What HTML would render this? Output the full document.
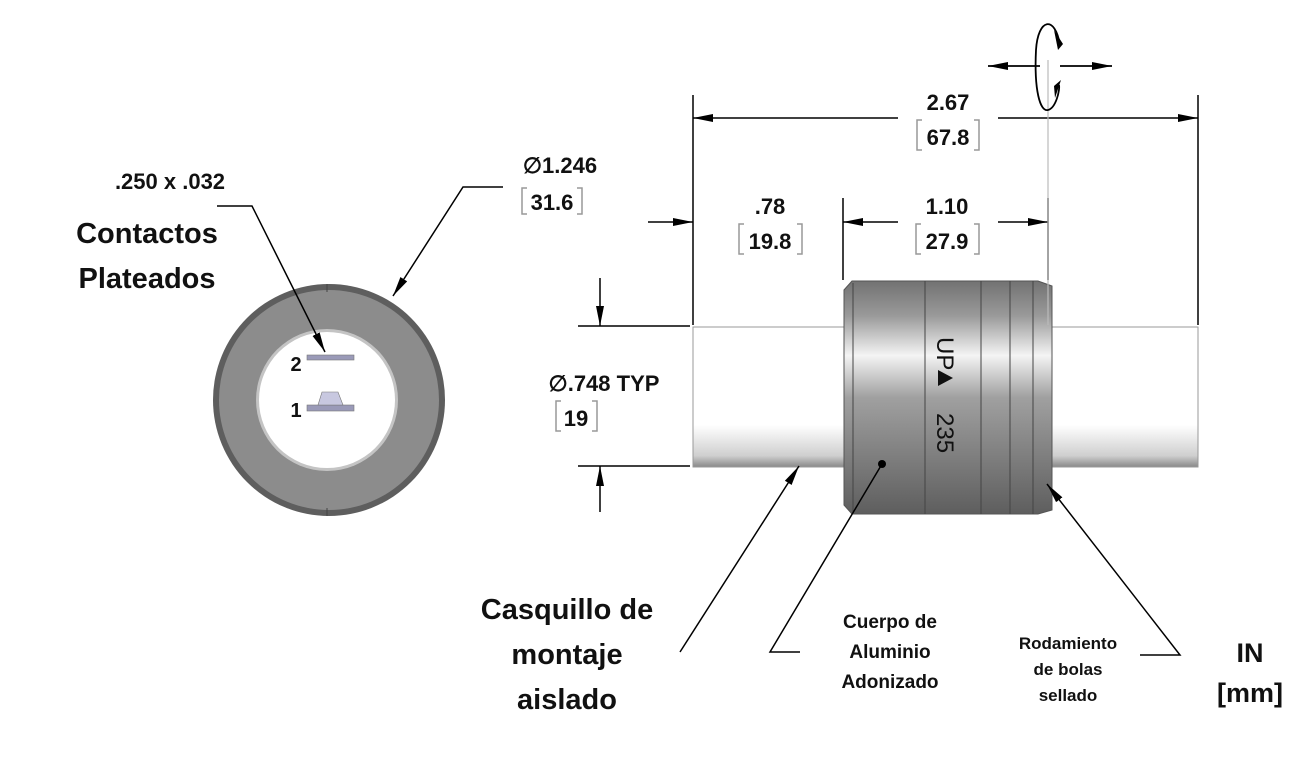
<!DOCTYPE html>
<html><head><meta charset="utf-8"><style>
html,body{margin:0;padding:0;background:#fff;}
svg{display:block;}
text{font-family:"Liberation Sans",sans-serif;fill:#111;}
.d{font-size:22px;font-weight:bold;text-anchor:middle;}
.b{font-weight:bold;text-anchor:middle;}
</style></head><body>
<svg width="1306" height="771" viewBox="0 0 1306 771" xmlns="http://www.w3.org/2000/svg">
<defs>
<marker id="ar" markerWidth="20" markerHeight="10" refX="20" refY="5" orient="auto" markerUnits="userSpaceOnUse">
<path d="M0,1 L20,5 L0,9 Z" fill="#000"/></marker>
<linearGradient id="body" x1="0" y1="0" x2="0" y2="1">
<stop offset="0" stop-color="#727272"/><stop offset="0.15" stop-color="#9a9a9a"/><stop offset="0.32" stop-color="#f4f4f4"/><stop offset="0.5" stop-color="#a0a0a0"/><stop offset="1" stop-color="#5e5e5e"/></linearGradient>
<linearGradient id="shaft" x1="0" y1="0" x2="0" y2="1">
<stop offset="0" stop-color="#fff"/><stop offset="0.7" stop-color="#fff"/><stop offset="0.92" stop-color="#cfcfcf"/><stop offset="1" stop-color="#888"/></linearGradient>
</defs>

<circle cx="329" cy="400" r="116" fill="#5e5e5e"/>
<circle cx="329" cy="400" r="110" fill="#8c8c8c"/>
<circle cx="327" cy="400" r="71" fill="#c4c4c4"/>
<circle cx="327" cy="400" r="68" fill="#fff"/>
<line x1="327" y1="284" x2="327" y2="292" stroke="#444" stroke-width="1"/>
<line x1="327" y1="508" x2="327" y2="516" stroke="#444" stroke-width="1"/>
<rect x="307" y="355" width="47" height="5" fill="#9a9ab8" stroke="#777" stroke-width="0.6"/>
<rect x="307" y="405" width="47" height="6" fill="#9a9ab8" stroke="#777" stroke-width="0.6"/>
<path d="M318,405 L322,392 L338,392 L343,405 Z" fill="#c8c8e0" stroke="#777" stroke-width="0.6"/>
<text x="296" y="371" class="b" font-size="20">2</text>
<text x="296" y="417" class="b" font-size="20">1</text>

<polyline points="217,206 252,206 325,352" fill="none" stroke="#000" stroke-width="1.5" marker-end="url(#ar)"/>
<polyline points="503,187 463,187 393,296" fill="none" stroke="#000" stroke-width="1.5" marker-end="url(#ar)"/>
<text x="170" y="189" font-size="22" font-weight="bold" text-anchor="middle">.250 x .032</text>
<text x="147" y="243" class="b" font-size="29">Contactos</text>
<text x="147" y="288" class="b" font-size="29">Plateados</text>
<text x="560" y="173" class="d" font-size="23">∅1.246</text>
<text x="552" y="210" class="d">31.6</text>
<path d="M527,188 h-5 v26 h5 M577,188 h5 v26 h-5" fill="none" stroke="#999" stroke-width="1.5"/>

<rect x="693" y="327" width="152" height="140" fill="url(#shaft)" stroke="#999" stroke-width="1"/>
<rect x="1048" y="327" width="150" height="140" fill="url(#shaft)" stroke="#999" stroke-width="1"/>
<path d="M852,281 L1038,281 L1052,286 L1052,510 L1038,514 L852,514 L844,505 L844,290 Z" fill="url(#body)" stroke="#555" stroke-width="1"/>
<g stroke="#444" stroke-width="1">
<line x1="853" y1="283" x2="853" y2="512"/>
<line x1="925" y1="281" x2="925" y2="514"/>
<line x1="981" y1="281" x2="981" y2="514"/>
<line x1="1010" y1="281" x2="1010" y2="514"/>
<line x1="1033" y1="281" x2="1033" y2="514"/>
</g>
<text transform="translate(937,337) rotate(90)" font-size="24" fill="#111">UP</text>
<path d="M938,370 L953,378 L938,386 Z" fill="#111"/>
<text transform="translate(937,413) rotate(90)" font-size="24" fill="#111">235</text>
<circle cx="882" cy="464" r="4" fill="#000"/>

<g stroke="#000" stroke-width="1.5" fill="none">
<line x1="693" y1="95" x2="693" y2="325"/>
<line x1="1198" y1="95" x2="1198" y2="325"/>
<line x1="843" y1="198" x2="843" y2="280"/>
<line x1="1048" y1="198" x2="1048" y2="280"/>
<line x1="898" y1="118" x2="693" y2="118" marker-end="url(#ar)"/>
<line x1="998" y1="118" x2="1198" y2="118" marker-end="url(#ar)"/>
<line x1="648" y1="222" x2="693" y2="222" marker-end="url(#ar)"/>
<line x1="898" y1="222" x2="843" y2="222" marker-end="url(#ar)"/>
<line x1="998" y1="222" x2="1048" y2="222" marker-end="url(#ar)"/>
<line x1="578" y1="326" x2="690" y2="326"/>
<line x1="578" y1="466" x2="690" y2="466"/>
<line x1="600" y1="278" x2="600" y2="326" marker-end="url(#ar)"/>
<line x1="600" y1="512" x2="600" y2="466" marker-end="url(#ar)"/>
</g>
<line x1="1048" y1="60" x2="1048" y2="325" stroke="#bbb" stroke-width="1.2"/>
<g stroke="#000" stroke-width="1.8" fill="none">
<line x1="1040" y1="66" x2="988" y2="66" marker-end="url(#ar)"/>
<line x1="1060" y1="66" x2="1112" y2="66" marker-end="url(#ar)"/>
<path d="M1060,45 C1055,15 1038,18 1036,50 C1034,90 1040,112 1048,110 C1056,108 1060,90 1059,85"/>
</g>
<path d="M1054,30 L1063,44 L1058,50 Z" fill="#000"/>
<path d="M1055,98 L1061,80 L1054,86 Z" fill="#000"/>

<text x="948" y="110" class="d">2.67</text>
<text x="948" y="145" class="d">67.8</text>
<path d="M922,120 h-5 v30 h5 M974,120 h5 v30 h-5" fill="none" stroke="#999" stroke-width="1.5"/>
<text x="770" y="214" class="d">.78</text>
<text x="770" y="249" class="d">19.8</text>
<path d="M744,224 h-5 v30 h5 M797,224 h5 v30 h-5" fill="none" stroke="#999" stroke-width="1.5"/>
<text x="947" y="214" class="d">1.10</text>
<text x="947" y="249" class="d">27.9</text>
<path d="M921,224 h-5 v30 h5 M974,224 h5 v30 h-5" fill="none" stroke="#999" stroke-width="1.5"/>
<text x="604" y="391" class="d">∅.748 TYP</text>
<text x="576" y="426" class="d">19</text>
<path d="M561,401 h-5 v30 h5 M592,401 h5 v30 h-5" fill="none" stroke="#999" stroke-width="1.5"/>

<g stroke="#000" stroke-width="1.5" fill="none">
<line x1="680" y1="652" x2="799" y2="466" marker-end="url(#ar)"/>
<polyline points="800,652 770,652 882,464"/>
<polyline points="1140,655 1180,655 1047,484" marker-end="url(#ar)"/>
</g>
<text x="567" y="619" class="b" font-size="29">Casquillo de</text>
<text x="567" y="664" class="b" font-size="29">montaje</text>
<text x="567" y="709" class="b" font-size="29">aislado</text>
<text x="890" y="628" class="b" font-size="19">Cuerpo de</text>
<text x="890" y="658" class="b" font-size="19">Aluminio</text>
<text x="890" y="688" class="b" font-size="19">Adonizado</text>
<text x="1068" y="649" class="b" font-size="17">Rodamiento</text>
<text x="1068" y="675" class="b" font-size="17">de bolas</text>
<text x="1068" y="701" class="b" font-size="17">sellado</text>
<text x="1250" y="662" class="b" font-size="27">IN</text>
<text x="1250" y="702" class="b" font-size="27">[mm]</text>
</svg>
</body></html>
